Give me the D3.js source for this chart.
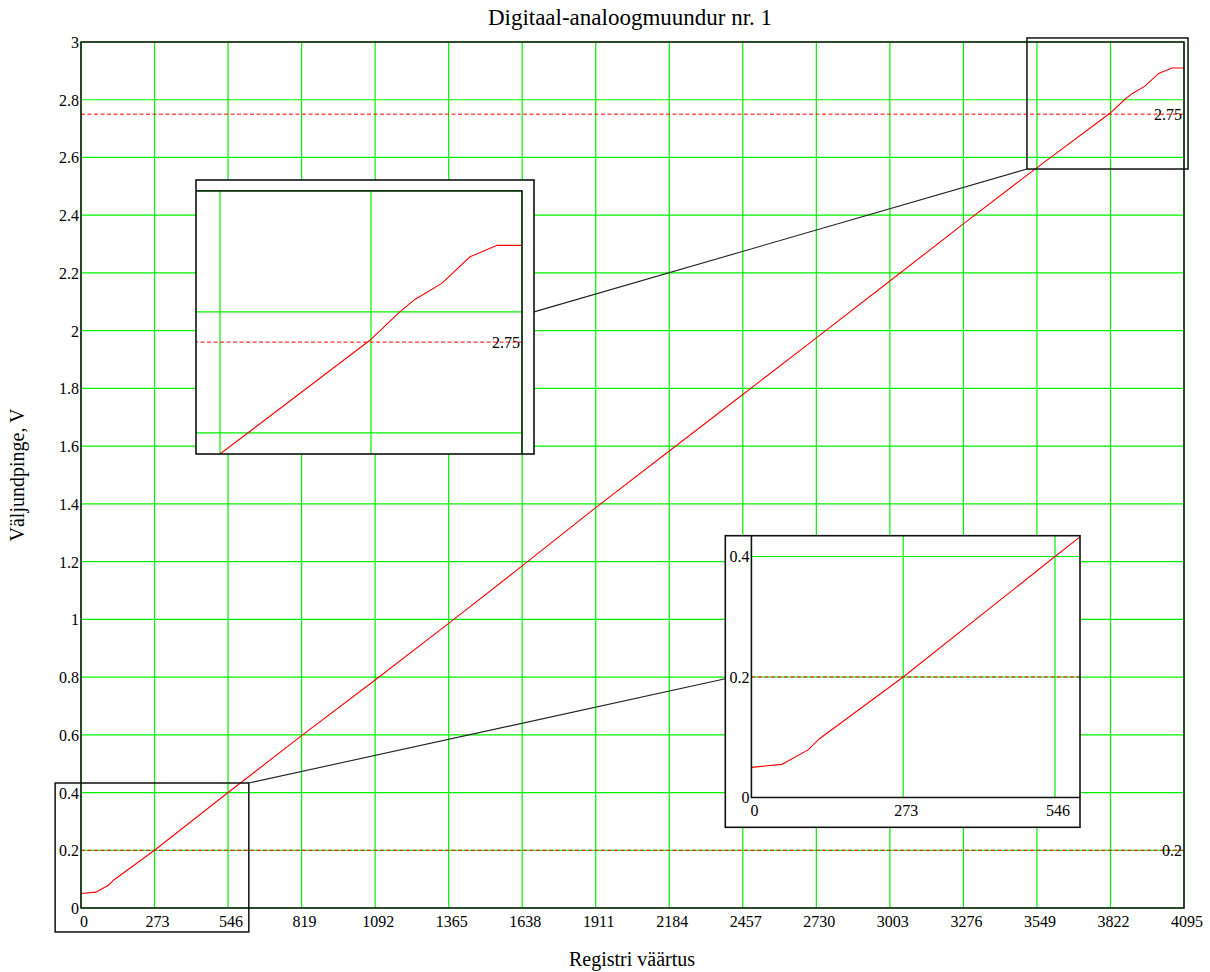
<!DOCTYPE html>
<html>
<head>
<meta charset="utf-8">
<script src="https://cdn.jsdelivr.net/npm/d3@7"></script>
<style>
  html, body { margin: 0; padding: 0; background: #fff; }
  svg { display: block; }
  text { font-family: "Liberation Serif", "Times New Roman", serif; fill: #000; }
</style>
</head>
<body>
<svg id="chart" width="1210" height="972"></svg>
<script>
// ---------- data ----------
const titleText = "Digitaal-analoogmuundur nr. 1";
const xLabel = "Registri väärtus";
const yLabel = "Väljundpinge, V";

const xTicks = [0, 273, 546, 819, 1092, 1365, 1638, 1911, 2184, 2457, 2730, 3003, 3276, 3549, 3822, 4095];
const yTicks = [0, 0.2, 0.4, 0.6, 0.8, 1, 1.2, 1.4, 1.6, 1.8, 2, 2.2, 2.4, 2.6, 2.8, 3];
const yTickLabels = ["0", "0.2", "0.4", "0.6", "0.8", "1", "1.2", "1.4", "1.6", "1.8", "2", "2.2", "2.4", "2.6", "2.8", "3"];

const registerValues = [0, 55, 102, 123, 273, 546, 819, 1092, 1365, 1638, 1911, 2184, 2457, 2730, 3003, 3276, 3549, 3820, 3874, 3902, 3950, 4001, 4050, 4095];
const outputVoltage  = [0.05, 0.055, 0.079, 0.098, 0.2, 0.4, 0.597, 0.79, 0.986, 1.185, 1.387, 1.583, 1.779, 1.975, 2.172, 2.37, 2.565, 2.753, 2.8, 2.821, 2.847, 2.891, 2.91, 2.91];

const refLevels = [0.2, 2.75];
const refLabels = ["0.2", "2.75"];

// zoomed regions (data domains) marked on the main chart
const zoomTopX = [3512, 4110], zoomTopY = [2.56, 3.014];
const zoomBottomX = [-96, 623], zoomBottomY = [-0.083, 0.433];
// domains shown in the two magnified insets
const inset1X = [3505.6, 4116.7], inset1Y = [2.565, 3.018];
const inset2X = [-47, 591],       inset2Y = [-0.0495, 0.4345];

// ---------- layout ----------
const main = { l: 81, r: 1184, t: 42, b: 908 };
const ins1 = { l: 196, r: 534, t: 180, b: 454 };
const ins2 = { l: 725.3, r: 1080, t: 535.7, b: 827.3 };
const full = { l: 0, r: 1210, t: 0, b: 972 };

const GREEN = "#00f000";
const RED = "#ff0000";

const svg = d3.select("#chart");
const data = registerValues.map((x, i) => ({ x, v: outputVoltage[i] }));

function drawPanel(g, xs, ys, bounds) {
  const x0 = xs(0), x1 = xs(4095), y0 = ys(0), y1 = ys(3);
  const inside = (px, py, halfW) => px - halfW >= bounds.l && px + halfW <= bounds.r && py - 12 >= bounds.t && py + 2 <= bounds.b;
  // grid
  g.append("g").selectAll("line").data(xTicks).join("line")
    .attr("x1", d => xs(d)).attr("x2", d => xs(d))
    .attr("y1", y0).attr("y2", y1)
    .attr("stroke", GREEN).attr("stroke-width", 1.2);
  g.append("g").selectAll("line").data(yTicks).join("line")
    .attr("x1", x0).attr("x2", x1)
    .attr("y1", d => ys(d)).attr("y2", d => ys(d))
    .attr("stroke", GREEN).attr("stroke-width", 1.2);
  // reference dashed lines
  g.append("g").selectAll("line").data(refLevels).join("line")
    .attr("x1", x0).attr("x2", x1)
    .attr("y1", d => ys(d)).attr("y2", d => ys(d))
    .attr("stroke", RED).attr("stroke-width", 1)
    .attr("stroke-dasharray", "4,2.5");
  // curve
  g.append("path").datum(data)
    .attr("fill", "none").attr("stroke", RED).attr("stroke-width", 1.1)
    .attr("d", d3.line().x(d => xs(d.x)).y(d => ys(d.v)));
  // ref labels
  const refIdx = refLevels.map((d, i) => i).filter(i => inside(x1 - 16, ys(refLevels[i]) + 5.5, 14));
  g.append("g").selectAll("text").data(refIdx).join("text")
    .attr("x", x1 - 2).attr("y", i => ys(refLevels[i]) + 5.5)
    .attr("text-anchor", "end").attr("font-size", 16)
    .text(i => refLabels[i]);
  // frame
  g.append("rect")
    .attr("x", x0).attr("y", y1).attr("width", x1 - x0).attr("height", y0 - y1)
    .attr("fill", "none").attr("stroke", "#111").attr("stroke-width", 1.5);
  // tick labels
  const xt = xTicks.filter(d => inside(xs(d) + 3, y0 + 19, String(d).length * 4));
  g.append("g").selectAll("text").data(xt).join("text")
    .attr("x", d => xs(d) + 3).attr("y", y0 + 19)
    .attr("text-anchor", "middle").attr("font-size", 16)
    .text(d => String(d));
  const yIdx = yTicks.map((d, i) => i).filter(i => inside(x0 - 2 - yTickLabels[i].length * 4, ys(yTicks[i]) + 6, yTickLabels[i].length * 4));
  g.append("g").selectAll("text").data(yIdx).join("text")
    .attr("x", x0 - 2).attr("y", i => ys(yTicks[i]) + 6)
    .attr("text-anchor", "end").attr("font-size", 16)
    .text(i => yTickLabels[i]);
}

// ---------- main chart ----------
const xMain = d3.scaleLinear().domain([0, 4095]).range([main.l, main.r]);
const yMain = d3.scaleLinear().domain([0, 3]).range([main.b, main.t]);
drawPanel(svg.append("g"), xMain, yMain, full);

// title & axis labels
svg.append("text").attr("x", 630).attr("y", 25).attr("text-anchor", "middle")
  .attr("font-size", 23).text(titleText);
svg.append("text").attr("x", 632).attr("y", 966).attr("text-anchor", "middle")
  .attr("font-size", 20).text(xLabel);
svg.append("text").attr("transform", "translate(23.5,475) rotate(-90)")
  .attr("text-anchor", "middle").attr("font-size", 20).text(yLabel);

// zoom boxes on main chart
function boxRect(xd, yd) {
  return { x: xMain(xd[0]), y: yMain(yd[1]), w: xMain(xd[1]) - xMain(xd[0]), h: yMain(yd[0]) - yMain(yd[1]) };
}
[[zoomTopX, zoomTopY], [zoomBottomX, zoomBottomY]].forEach(([xd, yd]) => {
  const b = boxRect(xd, yd);
  svg.append("rect").attr("x", b.x).attr("y", b.y).attr("width", b.w).attr("height", b.h)
    .attr("fill", "none").attr("stroke", "#111").attr("stroke-width", 1.5);
});

// inset scales
const xIn1 = d3.scaleLinear().domain(inset1X).range([ins1.l, ins1.r]);
const yIn1 = d3.scaleLinear().domain(inset1Y).range([ins1.b, ins1.t]);
const xIn2 = d3.scaleLinear().domain(inset2X).range([ins2.l, ins2.r]);
const yIn2 = d3.scaleLinear().domain(inset2Y).range([ins2.b, ins2.t]);

// connector lines
svg.append("line")
  .attr("x1", xMain(zoomTopX[0])).attr("y1", yMain(zoomTopY[0]))
  .attr("x2", ins1.r).attr("y2", yIn1(2.8))
  .attr("stroke", "#222").attr("stroke-width", 1.1);
svg.append("line")
  .attr("x1", xMain(zoomBottomX[1])).attr("y1", yMain(zoomBottomY[1]))
  .attr("x2", ins2.l).attr("y2", yIn2(0.197))
  .attr("stroke", "#222").attr("stroke-width", 1.1);

// insets
const defs = svg.append("defs");
function drawInset(id, box, xs, ys) {
  defs.append("clipPath").attr("id", id).append("rect")
    .attr("x", box.l).attr("y", box.t).attr("width", box.r - box.l).attr("height", box.b - box.t);
  svg.append("rect").attr("x", box.l).attr("y", box.t)
    .attr("width", box.r - box.l).attr("height", box.b - box.t).attr("fill", "#fff");
  const g = svg.append("g").attr("clip-path", `url(#${id})`);
  drawPanel(g, xs, ys, box);
  svg.append("rect").attr("x", box.l).attr("y", box.t)
    .attr("width", box.r - box.l).attr("height", box.b - box.t)
    .attr("fill", "none").attr("stroke", "#111").attr("stroke-width", 1.6);
}
drawInset("clipIns1", ins1, xIn1, yIn1);
drawInset("clipIns2", ins2, xIn2, yIn2);
</script>
</body>
</html>
